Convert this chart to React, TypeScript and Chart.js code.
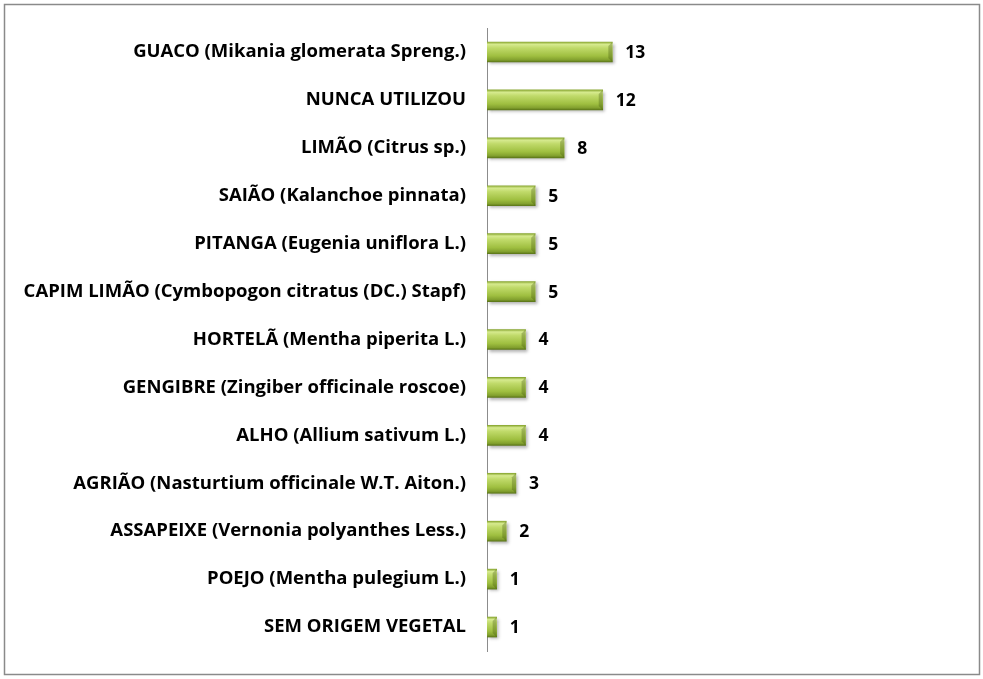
import React, { useEffect, useRef } from "react";
import { Chart, registerables } from "chart.js";

Chart.register(...registerables);

const categories = [
  "GUACO (Mikania glomerata Spreng.)",
  "NUNCA UTILIZOU",
  "LIMÃO (Citrus sp.)",
  "SAIÃO (Kalanchoe pinnata)",
  "PITANGA (Eugenia uniflora L.)",
  "CAPIM LIMÃO (Cymbopogon citratus (DC.) Stapf)",
  "HORTELÃ (Mentha piperita L.)",
  "GENGIBRE (Zingiber officinale roscoe)",
  "ALHO (Allium sativum L.)",
  "AGRIÃO (Nasturtium officinale W.T. Aiton.)",
  "ASSAPEIXE (Vernonia polyanthes Less.)",
  "POEJO (Mentha pulegium L.)",
  "SEM ORIGEM VEGETAL",
];
const values = [13, 12, 8, 5, 5, 5, 4, 4, 4, 3, 2, 1, 1];

const FONT = "'Open Sans', Lato, sans-serif";

export default function App() {
  const ref = useRef<HTMLCanvasElement>(null);
  useEffect(() => {
    if (!ref.current) return;
    const framePlugin = {
      id: "frame",
      beforeDraw(chart: any) {
        const c = chart.ctx;
        c.save();
        c.fillStyle = "#ffffff";
        c.fillRect(0, 0, chart.width, chart.height);
        c.strokeStyle = "#8a8a8a";
        c.lineWidth = 1.5;
        c.strokeRect(4.5, 4.5, 975, 670);
        c.restore();
      },
      beforeDatasetsDraw(chart: any) {
        const c = chart.ctx;
        c.save();
        c.shadowColor = "rgba(0,0,0,0.3)";
        c.shadowOffsetX = 2;
        c.shadowOffsetY = 2;
        c.shadowBlur = 3;
      },
      afterDatasetsDraw(chart: any) {
        const c = chart.ctx;
        c.restore();
        const meta = chart.getDatasetMeta(0);
        c.save();
        c.font = `bold 17.5px ${FONT}`;
        c.textBaseline = "middle";
        c.textAlign = "left";
        meta.data.forEach((bar: any, i: number) => {
          const h = 20;
          const x = bar.x;
          const y = bar.y;
          c.fillStyle = "rgba(60,80,10,0.3)";
          c.beginPath();
          c.moveTo(x - 4, y - h / 2 + 4);
          c.lineTo(x, y - h / 2);
          c.lineTo(x, y + h / 2);
          c.lineTo(x - 4, y + h / 2 - 4);
          c.closePath();
          c.fill();
          c.fillStyle = "#000";
          c.fillText(String(values[i]), x + 13, y + 1);
        });
        c.restore();
      },
    };
    const chart = new Chart(ref.current, {
      type: "bar",
      data: {
        labels: categories,
        datasets: [
          {
            data: values,
            barThickness: 20,
            borderWidth: 0,
            backgroundColor: (ctx: any) => {
              const ch = ctx.chart;
              const ys = ch.scales && ch.scales.y;
              if (!ys || ctx.dataIndex === undefined) return "#9bbb3c";
              const yc = ys.getPixelForValue(ctx.dataIndex);
              if (!isFinite(yc)) return "#9bbb3c";
              const g = ch.ctx.createLinearGradient(0, yc - 10, 0, yc + 10);
              g.addColorStop(0, "#8aa832");
              g.addColorStop(0.12, "#d6ea8e");
              g.addColorStop(0.3, "#c0da6a");
              g.addColorStop(0.7, "#9fbf40");
              g.addColorStop(0.9, "#82a02e");
              g.addColorStop(1, "#5d7819");
              return g;
            },
          },
        ],
      },
      options: {
        indexAxis: "y",
        animation: false,
        responsive: false,
        layout: { padding: { top: 28, bottom: 28, left: 0, right: 361 } },
        plugins: { legend: { display: false }, tooltip: { enabled: false } },
        scales: {
          x: { display: false, min: 0, max: 14 },
          y: {
            afterFit(scale: any) {
              scale.width = 487;
              scale.paddingTop = 0;
              scale.paddingBottom = 0;
            },
            grid: { display: false, drawTicks: false },
            border: { display: true, color: "#8c8c8c", width: 1 },
            ticks: {
              padding: 21,
              color: "#000",
              font: { family: FONT, size: 18.5, weight: "bold" },
            },
          },
        },
      },
      plugins: [framePlugin],
    } as any);
    return () => chart.destroy();
  }, []);
  return (
    <div style={{ position: "absolute", left: 0, top: 0, width: 983, height: 679 }}>
      <canvas ref={ref} width={983} height={679} />
    </div>
  );
}
